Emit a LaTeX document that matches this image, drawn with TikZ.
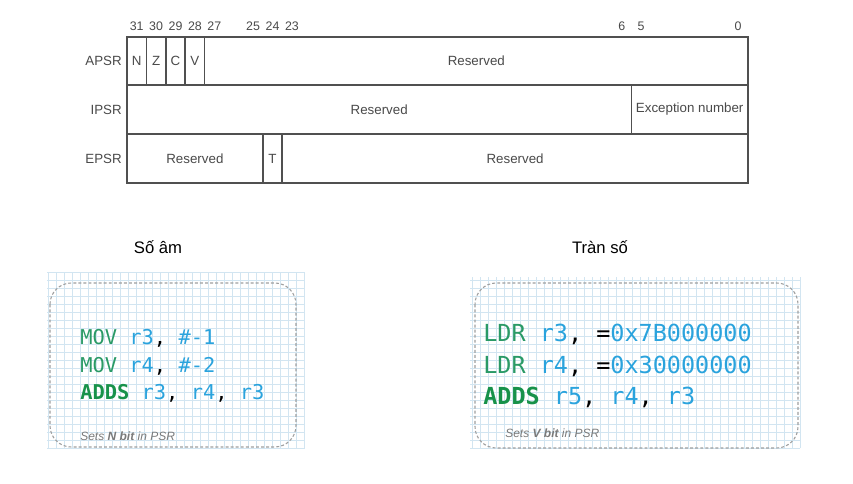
\documentclass[tikz,border=0pt]{standalone}
\usepackage{fontspec}
\setmainfont{Liberation Sans}
\newfontfamily\codefont{DejaVu Sans Mono}
\definecolor{regline}{HTML}{505050}
\definecolor{regtext}{HTML}{4A4A4A}
\definecolor{gridblue}{HTML}{D2E5F1}
\definecolor{mnem}{HTML}{2A9A66}
\definecolor{mnembold}{HTML}{17924A}
\definecolor{opnd}{HTML}{2AA3DD}
\definecolor{notegray}{HTML}{7A7A7A}

\begin{document}
\begin{tikzpicture}[x=0.75pt, y=-0.75pt,
  field/.style={draw=regline, line width=1.1pt},
  ftext/.style={text=regtext, inner sep=0pt, font=\fontsize{10}{12}\selectfont},
  bitno/.style={text=regtext, inner sep=0pt, font=\fontsize{9.3}{11}\selectfont},
  regname/.style={text=regtext, anchor=east, inner sep=0pt, font=\fontsize{10}{12}\selectfont},
  title/.style={inner sep=0pt, font=\fontsize{12.5}{15}\selectfont},
  gridline/.style={draw=gridblue, line width=0.5pt, step=6pt},
  codebox/.style={draw=gray!75, line width=0.8pt, dash pattern=on 2.2pt off 1.6pt, rounded corners=16pt},
  code/.style={anchor=west, align=left, inner sep=0pt},
  note/.style={anchor=west, inner sep=0pt, text=notegray, font=\fontsize{9}{11}\selectfont\itshape}]
  \useasboundingbox (0,0) rectangle (853,484);
  \fill[white] (0,0) rectangle (853,484);

  % register layout
  \foreach \b in {31,30,29,28,27,25,24,23,6,5,0}
    \node[bitno] (bit\b) at ({127+(31.5-\b)*19.4},26) {\b};
  \node[regname] (apsr) at (122,61) {APSR};
  \node[regname] (ipsr) at (122,109.5) {IPSR};
  \node[regname] (epsr) at (122,158.5) {EPSR};
  \foreach \l/\r/\t/\d/\txt/\nm in {127/146.4/37/85/N/fN, 146.4/165.8/37/85/Z/fZ,
      165.8/185.2/37/85/C/fC, 185.2/204.6/37/85/V/fV, 204.6/748/37/85/Reserved/aRes,
      127/631.4/85/134/Reserved/iRes, 631.4/748/85/134/Exception number/iExc,
      127/262.8/134/183/Reserved/eResA, 262.8/282.2/134/183/T/eT, 282.2/748/134/183/Reserved/eResB}
    \draw[field] (\l,\t) rectangle (\r,\d) node[ftext] (\nm) at ({(\l+\r)/2},{(\t+\d)/2}) {\txt};

  % negative example
  \node[title] (negtitle) at (158,247) {Số âm};
  \draw[gridline] (47,272) grid (305,448);
  \draw[codebox] (50,283) rectangle (296,447);
  \node[code, font=\codefont\fontsize{15.3}{20.6}\selectfont] (negcode) at (80,366)
    {\textcolor{mnem}{MOV} \textcolor{opnd}{r3}, \textcolor{opnd}{\#-1}\\
     \textcolor{mnem}{MOV} \textcolor{opnd}{r4}, \textcolor{opnd}{\#-2}\\
     \textcolor{mnembold}{\bfseries ADDS} \textcolor{opnd}{r3}, \textcolor{opnd}{r4}, \textcolor{opnd}{r3}};
  \node[note] (negnote) at (80,436) {Sets \textbf{N bit} in PSR};

  % overflow example
  \node[title] (ovftitle) at (600,247) {Tràn số};
  \draw[gridline] (470,277) grid (800,448);
  \draw[codebox] (475,283) rectangle (798,448);
  \node[code, font=\codefont\fontsize{17.6}{23.6}\selectfont] (ovfcode) at (483,366)
    {\textcolor{mnem}{LDR} \textcolor{opnd}{r3}, =\textcolor{opnd}{0x7B000000}\\
     \textcolor{mnem}{LDR} \textcolor{opnd}{r4}, =\textcolor{opnd}{0x30000000}\\
     \textcolor{mnembold}{\bfseries ADDS} \textcolor{opnd}{r5}, \textcolor{opnd}{r4}, \textcolor{opnd}{r3}};
  \node[note] (ovfnote) at (505,433) {Sets \textbf{V bit} in PSR};
\end{tikzpicture}
\end{document}
